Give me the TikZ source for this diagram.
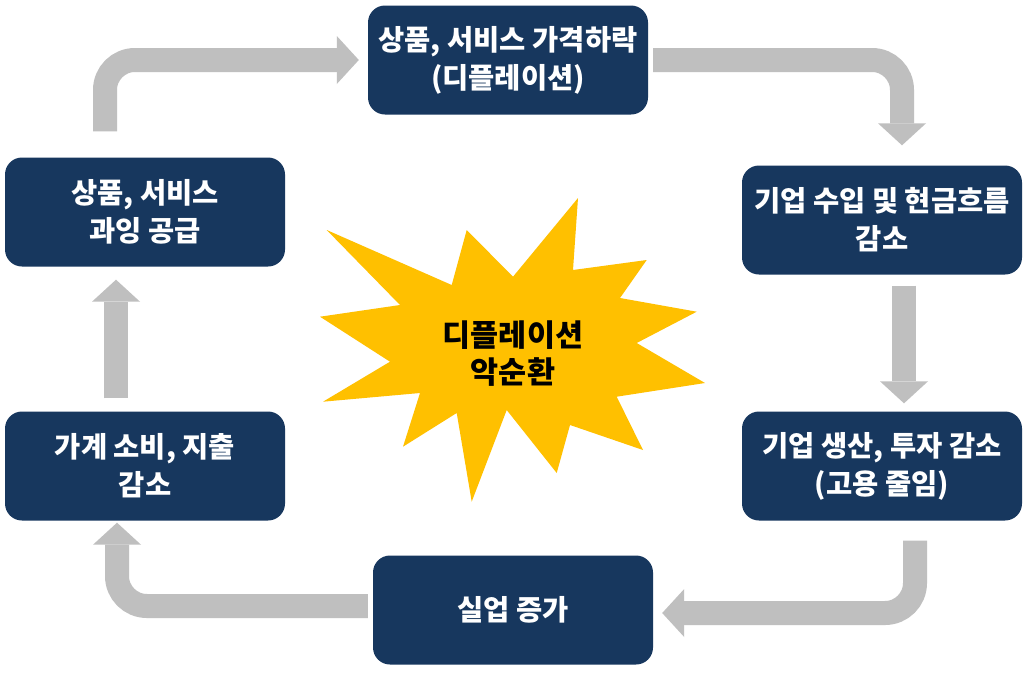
\documentclass[tikz,border=0pt]{standalone}
\usepackage{fontspec}
\newfontfamily\kr{Noto Sans CJK KR}
\usetikzlibrary{arrows.meta,calc}
\definecolor{navy}{HTML}{17375E}
\definecolor{arrgray}{HTML}{BFBFBF}
\definecolor{burst}{HTML}{FFC000}
\begin{document}
\begin{tikzpicture}[x=1pt,y=-1pt,
  box/.style={fill=navy, rounded corners=17pt, minimum width=280pt, minimum height=109pt,
    text=white, font=\kr\bfseries\fontsize{28.5}{38}\selectfont, align=center, inner sep=0pt},
  flow/.style={draw=arrgray, line width=24pt, rounded corners=30pt,
    -{Triangle[width=48pt,length=22pt,line width=0pt]}},
  burstlabel/.style={text=black, font=\kr\bfseries\fontsize{30.5}{37}\selectfont, align=center, inner sep=0pt}]
\useasboundingbox (0,0) rectangle (1024,672);
\fill[white] (0,0) rectangle (1024,672);
% boxes
\node[box] (b1) at (508,60)  {상품, 서비스 가격하락\\(디플레이션)};
\node[box] (b2) at (882,220) {기업 수입 및 현금흐름\\감소};
\node[box] (b3) at (882,466) {기업 생산, 투자 감소\\(고용 줄임)};
\node[box] (b4) at (513,610) {실업 증가};
\node[box] (b5) at (145,466) {가계 소비, 지출\\감소};
\node[box] (b6) at (145,212) {상품, 서비스\\과잉 공급};
% connectors
\draw[flow] ($(b6.north)+(-40,-26)$) |- ($(b1.west)+(-9,0)$);
\draw[flow] ($(b1.east)+(5,0)$) -| ($(b2.north)+(20,-20)$);
\draw[flow] ($(b2.south)+(22,11)$) -- ($(b3.north)+(22,-8)$);
\draw[flow] ($(b3.south)+(33,20)$) |- ($(b4.east)+(9,3)$);
\draw[flow] ($(b4.west)+(-5,-4)$) -| ($(b5.south)+(-28,2)$);
\draw[flow] ($(b5.north)+(-29,-13)$) -- ($(b6.south)+(-29,13)$);
% starburst
\fill[burst] (326.7,230) -- (451.7,285) -- (466.7,230) -- (513,276.7) -- (578,198) -- (573,270)
  -- (646.7,260) -- (620,298) -- (696.7,311.7) -- (636.7,343) -- (705,383) -- (616.7,396.7)
  -- (643,450) -- (570,425) -- (556.7,473) -- (506.7,410) -- (471.7,501.7) -- (456.7,413)
  -- (403,446.7) -- (420,393) -- (323,401.7) -- (390,361.7) -- (320,316.7) -- (400,305) -- cycle;
\node[burstlabel] (center) at (513,354) {디플레이션\\악순환};
\end{tikzpicture}
\end{document}
